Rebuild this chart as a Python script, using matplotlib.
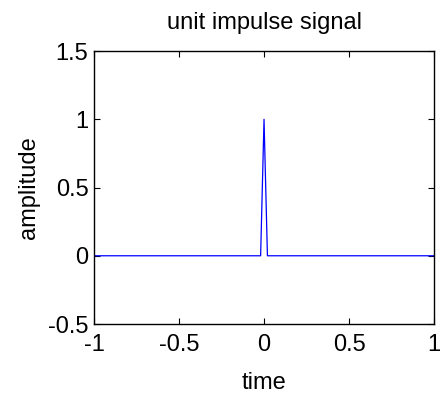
import numpy as np
import matplotlib
matplotlib.use('Agg')
import matplotlib.pyplot as plt

plt.rcParams['font.family'] = ['Liberation Sans', 'DejaVu Sans']

# samples of the unit impulse, t = -1:0.02:1
time = np.linspace(-1, 1, 101)
amplitude = np.zeros(101)
amplitude[50] = 1.0

x_ticks = [-1, -0.5, 0, 0.5, 1]
x_labels = ['-1', '-0.5', '0', '0.5', '1']
y_ticks = [-0.5, 0, 0.5, 1, 1.5]
y_labels = ['-0.5', '0', '0.5', '1', '1.5']

fig = plt.figure(figsize=(4.41, 3.95), dpi=100)
ax = fig.add_axes([0.2132, 0.1797, 0.7710, 0.6911])

ax.plot(time, amplitude, color='#0000ff', linewidth=0.9)

ax.set_xlim(-1, 1)
ax.set_ylim(-0.5, 1.5)
ax.set_xticks(x_ticks)
ax.set_xticklabels(x_labels)
ax.set_yticks(y_ticks)
ax.set_yticklabels(y_labels)
ax.tick_params(direction='in', length=4, width=0.8, labelsize=17,
               top=True, right=True)
ax.tick_params(axis='x', pad=7)
ax.tick_params(axis='y', pad=4)
for s in ax.spines.values():
    s.set_linewidth(1.0)

ax.set_title('unit impulse signal', fontsize=17, pad=16)
ax.set_xlabel('time', fontsize=17, labelpad=12)
ax.set_ylabel('amplitude', fontsize=17, labelpad=6)

fig.savefig('out.png', dpi=100)
